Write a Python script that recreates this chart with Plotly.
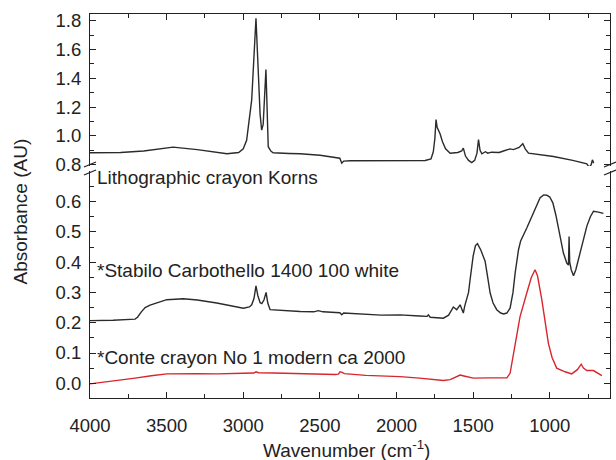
import plotly.graph_objects as go
from plotly.subplots import make_subplots

# ---------------- data ----------------
korns_wn = [4000, 3800, 3650, 3458, 3300, 3106, 3030, 3000, 2978, 2962, 2956, 2945, 2917, 2905, 2890,
            2880, 2870, 2852, 2845, 2837, 2820, 2805, 2700, 2629, 2499, 2401, 2370, 2357, 2345, 2300,
            2000, 1813, 1775, 1760, 1750, 1742, 1735, 1725, 1716, 1700, 1680, 1650, 1600, 1575, 1564,
            1550, 1530, 1509, 1490, 1475, 1465, 1455, 1443, 1420, 1405, 1380, 1330, 1302, 1260, 1237,
            1200, 1176, 1160, 1139, 1100, 976, 850, 770, 758, 748, 740, 730, 722, 718, 714]
korns_abs = [0.883, 0.885, 0.895, 0.922, 0.905, 0.876, 0.885, 0.91, 0.97, 1.10, 1.135, 1.25, 1.817, 1.50, 1.15,
             1.04, 1.08, 1.462, 1.20, 0.925, 0.895, 0.883, 0.878, 0.876, 0.866, 0.853, 0.845, 0.81, 0.825, 0.827,
             0.829, 0.829, 0.84, 0.89, 0.98, 1.113, 1.06, 1.04, 1.015, 0.96, 0.91, 0.88, 0.885, 0.895, 0.915,
             0.86, 0.83, 0.815, 0.83, 0.88, 0.975, 0.90, 0.876, 0.89, 0.88, 0.887, 0.885, 0.895, 0.91, 0.905,
             0.92, 0.946, 0.91, 0.88, 0.875, 0.857, 0.83, 0.81, 0.806, 0.79, 0.785, 0.80, 0.834, 0.825, 0.81]

stabilo_wn = [4000, 3850, 3706, 3690, 3665, 3640, 3608, 3560, 3499, 3391, 3300, 3173, 3050, 2999, 2960, 2945,
              2930, 2917, 2905, 2890, 2879, 2865, 2851, 2840, 2825, 2750, 2629, 2540, 2510, 2480, 2370,
              2357, 2345, 2100, 1977, 1850, 1800, 1792, 1780, 1694, 1660, 1629, 1607, 1585, 1575, 1564,
              1555, 1542, 1530, 1520, 1500, 1485, 1472, 1450, 1422, 1405, 1389, 1370, 1346, 1320, 1302,
              1280, 1259, 1240, 1226, 1204, 1190, 1150, 1107, 1063, 1040, 1019, 1000, 980, 960, 943,
              911, 889, 878, 874, 870, 860, 845, 830, 802, 780, 758, 735, 715, 690, 650]
stabilo_abs = [0.207, 0.208, 0.212, 0.218, 0.236, 0.250, 0.258, 0.267, 0.276, 0.279, 0.275, 0.265, 0.252, 0.248, 0.252, 0.259,
               0.28, 0.322, 0.29, 0.266, 0.263, 0.275, 0.30, 0.265, 0.243, 0.240, 0.237, 0.236, 0.240, 0.236, 0.233,
               0.226, 0.232, 0.225, 0.226, 0.222, 0.221, 0.226, 0.218, 0.215, 0.225, 0.252, 0.243, 0.259, 0.245, 0.232,
               0.255, 0.281, 0.30, 0.342, 0.42, 0.455, 0.461, 0.44, 0.403, 0.35, 0.298, 0.265, 0.243, 0.232, 0.229,
               0.232, 0.248, 0.30, 0.364, 0.441, 0.47, 0.513, 0.563, 0.613, 0.622, 0.621, 0.615, 0.596, 0.555, 0.508,
               0.43, 0.397, 0.39, 0.485, 0.40, 0.375, 0.355, 0.375, 0.43, 0.48, 0.519, 0.55, 0.568, 0.566, 0.561]

conte_wn = [4000, 3850, 3706, 3600, 3499, 3300, 3173, 3000, 2930, 2917, 2900, 2800, 2629, 2400, 2380,
            2368, 2355, 2340, 2200, 1977, 1850, 1694, 1650, 1600, 1585, 1560, 1498, 1400, 1300, 1280,
            1259, 1230, 1194, 1150, 1120, 1096, 1080, 1052, 1030, 1009, 985, 955, 900, 857, 820,
            795, 780, 758, 715, 690, 660]
conte_abs = [-0.002, 0.007, 0.017, 0.025, 0.031, 0.032, 0.031, 0.033, 0.034, 0.038, 0.035, 0.034, 0.031, 0.029, 0.030,
             0.038, 0.036, 0.032, 0.026, 0.022, 0.017, 0.009, 0.012, 0.024, 0.027, 0.024, 0.017, 0.018, 0.017, 0.018,
             0.033, 0.12, 0.22, 0.298, 0.35, 0.375, 0.355, 0.276, 0.20, 0.132, 0.085, 0.05, 0.038, 0.031, 0.045,
             0.063, 0.05, 0.042, 0.042, 0.035, 0.025]

labels = ["Lithographic crayon Korns", "*Stabilo Carbothello 1400 100 white", "*Conte crayon No 1 modern ca 2000"]
x_ticks = [4000, 3500, 3000, 2500, 2000, 1500, 1000]
y_top_ticks = [0.8, 1.0, 1.2, 1.4, 1.6, 1.8]
y_bottom_ticks = [0.0, 0.1, 0.2, 0.3, 0.4, 0.5, 0.6]

# ---------------- layout helpers ----------------
W, H = 616, 460
ML, MR, MT, MB = 90, 6, 14, 62
PW, PH = W - ML - MR, H - MT - MB


def px(x):
    return (x - ML) / PW


def py(y):
    return (H - MB - y) / PH


FONT = "Arial, Liberation Sans, sans-serif"
INK = "#222222"
LINE = "#2b2b2b"
RED = "#d8262c"

fig = make_subplots(rows=2, cols=1, shared_xaxes=False, vertical_spacing=0.0)

fig.add_trace(go.Scatter(x=korns_wn, y=korns_abs, mode="lines",
                         line=dict(color=LINE, width=1.4), showlegend=False), row=1, col=1)
fig.add_trace(go.Scatter(x=stabilo_wn, y=stabilo_abs, mode="lines",
                         line=dict(color=LINE, width=1.4), showlegend=False), row=2, col=1)
fig.add_trace(go.Scatter(x=conte_wn, y=conte_abs, mode="lines",
                         line=dict(color=RED, width=1.4), showlegend=False), row=2, col=1)

xr = [4000, 607]
common_axis = dict(showline=True, linecolor=INK, linewidth=1.2, ticks="inside", ticklen=6,
                   tickcolor=INK, tickwidth=1.2, showgrid=False, zeroline=False,
                   tickfont=dict(family=FONT, size=18.5, color=INK))

fig.update_layout(
    xaxis=dict(domain=[0, 1], range=xr, anchor="y", side="top", showticklabels=False,
               tickvals=x_ticks, minor=dict(ticks="inside", ticklen=4, dtick=250, tickcolor=INK, tickwidth=1.2),
               **common_axis),
    yaxis=dict(domain=[py(166), 1], range=[0.791, 1.847], anchor="x", tickvals=y_top_ticks,
               tickformat=".1f", mirror="ticks", ticklabelstandoff=4,
               minor=dict(ticks="inside", ticklen=4, dtick=0.1, tick0=0.8, tickcolor=INK, tickwidth=1.2),
               **common_axis),
    xaxis2=dict(domain=[0, 1], range=xr, anchor="y2", tickvals=x_ticks, ticklabelstandoff=11,
                minor=dict(ticks="inside", ticklen=4, dtick=250, tickcolor=INK, tickwidth=1.2),
                **common_axis),
    yaxis2=dict(domain=[0, py(171)], range=[-0.0486, 0.701], anchor="x2", tickvals=y_bottom_ticks,
                tickformat=".1f", mirror="ticks", ticklabelstandoff=4,
                minor=dict(ticks="inside", ticklen=4, dtick=0.05, tick0=0, tickcolor=INK, tickwidth=1.2),
                **common_axis),
)

annots = []
for text, yp in zip(labels, [177, 270.5, 357]):
    annots.append(dict(text=text, x=px(95), y=py(yp), xref="paper", yref="paper",
                       xanchor="left", yanchor="middle", showarrow=False,
                       font=dict(family=FONT, size=19, color=INK)))
annots.append(dict(text="Wavenumber (cm<sup>-1</sup>)", x=px(346), y=py(449), xref="paper", yref="paper",
                   xanchor="center", yanchor="middle", showarrow=False,
                   font=dict(family=FONT, size=19, color=INK)))
annots.append(dict(text="Absorbance (AU)", x=px(20), y=py(211.5), xref="paper", yref="paper",
                   xanchor="center", yanchor="middle", textangle=-90, showarrow=False,
                   font=dict(family=FONT, size=19, color=INK)))

shapes = []
for cx in (90, 610):
    for cy in (164.5, 172.5):
        shapes.append(dict(type="line", xref="paper", yref="paper",
                           x0=px(cx - 6), y0=py(cy + 2.5), x1=px(cx + 6), y1=py(cy - 2.5),
                           line=dict(color=INK, width=1.3)))

fig.update_layout(
    width=W, height=H, margin=dict(l=ML, r=MR, t=MT, b=MB),
    paper_bgcolor="white", plot_bgcolor="white",
    annotations=annots, shapes=shapes, showlegend=False,
)

fig.write_html("out.html")
